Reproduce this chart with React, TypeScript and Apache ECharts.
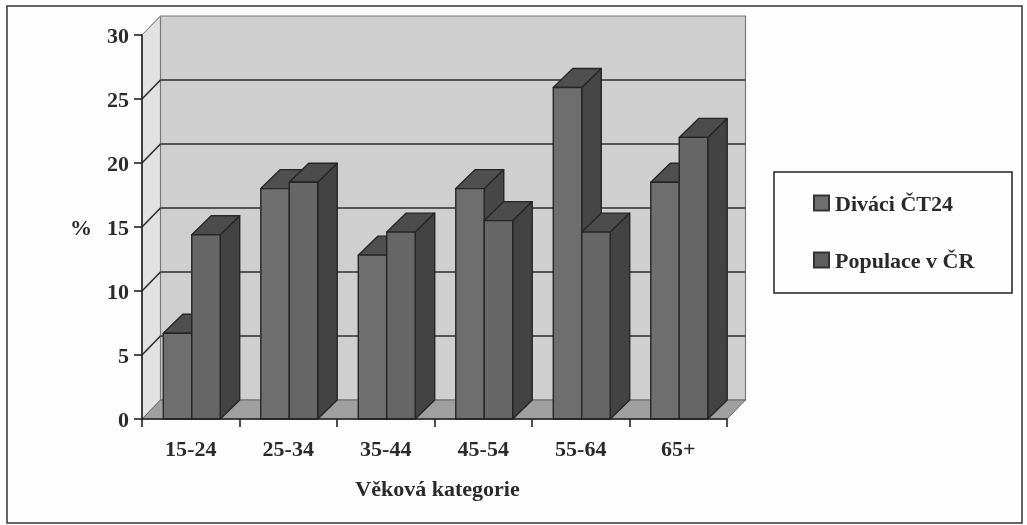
import React, { useEffect, useRef } from "react";
import * as echarts from "echarts";

const categories = ["15-24", "25-34", "35-44", "45-54", "55-64", "65+"];
const divaci = [6.7, 18, 12.8, 18, 25.9, 18.5];
const populace = [14.4, 18.5, 14.6, 15.5, 14.6, 22];
const gridTicks = [0, 5, 10, 15, 20, 25, 30];

const DX = 18.5;
const DY = 19;
const FONT = "'Liberation Serif', serif";
const BAR_FRAC = 0.292;

function makeBarRender(front: string, top: string, side: string, slot: number) {
  return (_p: any, api: any) => {
    const cat = api.value(0);
    const val = api.value(1);
    const base = api.coord([cat, 0]);
    const head = api.coord([cat, val]);
    const w = api.size([1, 0])[0] * BAR_FRAC;
    const x0 = base[0] + 1 + slot * w;
    const x1 = x0 + w;
    const yb = base[1];
    const yt = head[1];
    const edge = { stroke: "#262626", lineWidth: 1.4, lineJoin: "round" };
    const d = DX + 1;
    return {
      type: "group",
      children: [
        { type: "polygon", shape: { points: [[x1, yb], [x1 + d, yb - DY], [x1 + d, yt - DY], [x1, yt]] }, style: { fill: side, ...edge } },
        { type: "polygon", shape: { points: [[x0, yt], [x0 + d, yt - DY], [x1 + d, yt - DY], [x1, yt]] }, style: { fill: top, ...edge } },
        { type: "rect", shape: { x: x0, y: yt, width: w, height: yb - yt }, style: { fill: front, ...edge } },
      ],
    };
  };
}

function renderWalls(_p: any, api: any) {
  const n = categories.length;
  const size = api.size([1, 0])[0];
  const o = api.coord([0, 0]);
  const left = o[0] - size / 2;
  const right = left + size * n;
  const bot = o[1];
  const top = api.coord([0, gridTicks[gridTicks.length - 1]])[1];
  const children: any[] = [
    { type: "polygon", shape: { points: [[left, bot], [left + DX, bot - DY], [left + DX, top - DY], [left, top]] }, style: { fill: "#e2e2e2", stroke: "#7a7a7a", lineWidth: 1 } },
    { type: "rect", shape: { x: left + DX, y: top - DY, width: size * n, height: bot - top }, style: { fill: "#cfcfcf", stroke: "#7a7a7a", lineWidth: 1.2 } },
    { type: "polygon", shape: { points: [[left, bot], [left + DX, bot - DY], [right + DX, bot - DY], [right, bot]] }, style: { fill: "#9f9f9f", stroke: "#6a6a6a", lineWidth: 1 } },
  ];
  gridTicks.forEach((t) => {
    const y = api.coord([0, t])[1];
    if (t > 0) {
      if (t < 30) {
        children.push({ type: "line", shape: { x1: left + DX, y1: y - DY, x2: right + DX, y2: y - DY }, style: { stroke: "#2e2e2e", lineWidth: 1.6 } });
      }
      children.push({ type: "line", shape: { x1: left, y1: y, x2: left + DX, y2: y - DY }, style: { stroke: t < 30 ? "#2e2e2e" : "#8a8a8a", lineWidth: t < 30 ? 1.6 : 1 } });
    }
  });
  return { type: "group", children };
}

export default function App() {
  const ref = useRef<HTMLDivElement>(null);
  useEffect(() => {
    const chart = echarts.init(ref.current!, undefined, { renderer: "svg" });
    chart.setOption({
      animation: false,
      backgroundColor: "#fdfdfd",
      grid: { left: 142, right: 300, top: 35, bottom: 106, containLabel: false },
      xAxis: {
        type: "category",
        data: categories,
        z: 20,
        axisLine: { lineStyle: { color: "#222", width: 1.6 } },
        axisTick: { show: true, length: 8, lineStyle: { color: "#222", width: 1.6 } },
        axisLabel: { color: "#2a2a2a", fontFamily: FONT, fontWeight: "bold", fontSize: 22, margin: 18 },
        name: "Věková kategorie",
        nameLocation: "middle",
        nameGap: 58,
        nameTextStyle: { color: "#2a2a2a", fontFamily: FONT, fontWeight: "bold", fontSize: 22, padding: [0, 0, 0, 6] },
      },
      yAxis: {
        type: "value",
        min: 0,
        max: 30,
        interval: 5,
        z: 20,
        splitLine: { show: false },
        axisLine: { show: true, lineStyle: { color: "#222", width: 1.6 } },
        axisTick: { show: true, length: 8, lineStyle: { color: "#222", width: 1.6 } },
        axisLabel: { color: "#2a2a2a", fontFamily: FONT, fontWeight: "bold", fontSize: 22, margin: 13 },
        name: "%",
        nameLocation: "middle",
        nameRotate: 0,
        nameGap: 50,
        nameTextStyle: { color: "#2a2a2a", fontFamily: FONT, fontWeight: "bold", fontSize: 22, padding: [4, 0, 0, 0] },
      },
      legend: {
        data: ["Diváci ČT24", "Populace v ČR"],
        orient: "vertical",
        left: 813,
        top: 192,
        itemWidth: 15,
        itemHeight: 15,
        itemGap: 35,
        icon: "rect",
        padding: 0,
        textStyle: { color: "#2a2a2a", fontFamily: FONT, fontWeight: "bold", fontSize: 22, padding: [0, 0, 0, 1] },
      },
      graphic: [
        { type: "rect", z: -1, shape: { x: 7, y: 6, width: 1015, height: 517 }, style: { fill: "none", stroke: "#333", lineWidth: 1.5 } },
        { type: "rect", z: -1, shape: { x: 774, y: 172, width: 238, height: 121 }, style: { fill: "#fefefe", stroke: "#222", lineWidth: 1.5 } },
      ],
      series: [
        { type: "custom", name: "walls", z: 1, silent: true, data: [[0]], encode: { x: 0 }, renderItem: renderWalls, clip: false },
        {
          type: "custom",
          name: "Diváci ČT24",
          z: 2,
          data: divaci.map((v, i) => [i, v]),
          encode: { x: 0, y: 1 },
          itemStyle: { color: "#6e6e6e", borderColor: "#333", borderWidth: 1 },
          renderItem: makeBarRender("#6e6e6e", "#4f4f4f", "#474747", -1),
          clip: false,
        },
        {
          type: "custom",
          name: "Populace v ČR",
          z: 3,
          data: populace.map((v, i) => [i, v]),
          encode: { x: 0, y: 1 },
          itemStyle: { color: "#5f5f5f", borderColor: "#333", borderWidth: 1 },
          renderItem: makeBarRender("#666666", "#4c4c4c", "#434343", 0),
          clip: false,
        },
      ],
    });
    return () => chart.dispose();
  }, []);
  return <div ref={ref} style={{ position: "absolute", left: 0, top: 0, width: 1027, height: 525, filter: "blur(0.4px)" }} />;
}
